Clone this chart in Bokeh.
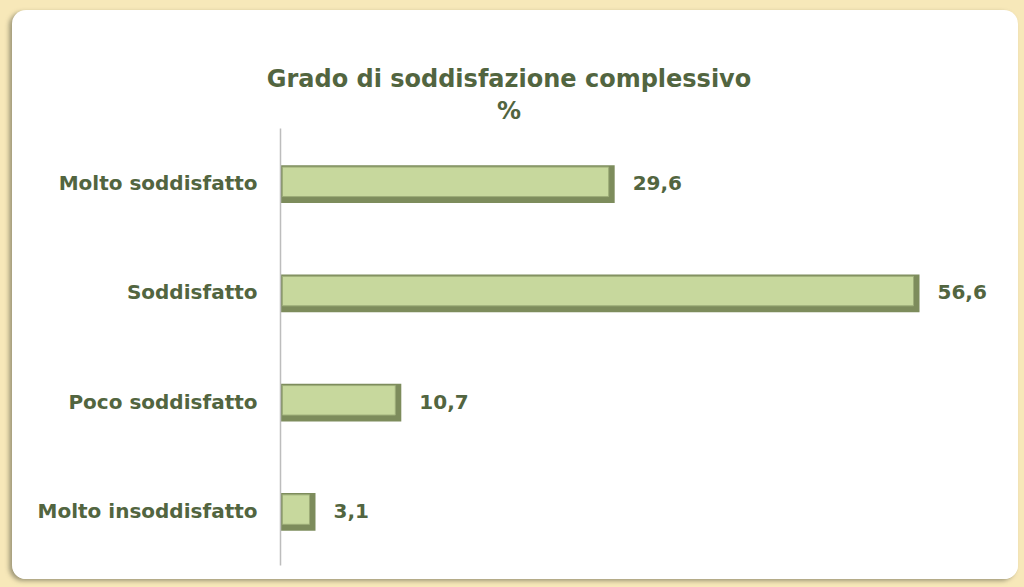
from bokeh.plotting import figure
from bokeh.models import ColumnDataSource, LabelSet, FactorRange, Range1d, Div
from bokeh.layouts import column
from bokeh.transform import dodge
from bokeh.core.properties import value
from bokeh.embed import file_html
from bokeh.resources import INLINE

# Data (bottom to top)
categories = ["Molto insoddisfatto", "Poco soddisfatto", "Soddisfatto", "Molto soddisfatto"]
values = [3.1, 10.7, 56.6, 29.6]
value_labels = ["3,1", "10,7", "56,6", "29,6"]
title_line1 = "Grado di soddisfazione complessivo"
title_line2 = "%"

TEXT = "#526540"
FONT = "DejaVu Sans"

px_per_unit = 11.29
inset_right = 6 / px_per_unit
inset_left = 2 / px_per_unit

src = ColumnDataSource(dict(
    cat=categories,
    val=values,
    inner_right=[v - inset_right for v in values],
    inner_left=[inset_left] * len(values),
    lab=value_labels,
))

p = figure(
    width=1006, height=451,
    y_range=FactorRange(factors=categories, range_padding=0),
    x_range=Range1d(0, 720 / px_per_unit),
    output_backend="svg", toolbar_location=None,
    x_axis_location=None, title=None,
    min_border_left=268, min_border_right=18,
    min_border_top=0, min_border_bottom=14,
)
p.margin = 0
p.background_fill_color = "white"
p.border_fill_color = "white"
p.outline_line_color = None
p.xgrid.visible = False
p.ygrid.visible = False

# shadow / dark base bar
p.hbar(y=dodge("cat", -0.01, range=p.y_range), left=0, right="val", height=0.345,
       source=src, fill_color="#7D8C5C", line_color=None)
# light face
p.hbar(y=dodge("cat", 0.012, range=p.y_range), left="inner_left", right="inner_right", height=0.27,
       source=src, fill_color="#C7D89D", line_color="#9DAD78", line_width=1)

labels = LabelSet(x="val", y="cat", text="lab", source=src, x_offset=18,
                  text_baseline="middle", text_align="left",
                  text_font=value(FONT), text_font_style="bold", text_font_size="20px",
                  text_color=TEXT)
p.add_layout(labels)

ax = p.yaxis[0]
ax.major_tick_line_color = None
ax.minor_tick_line_color = None
ax.axis_line_color = "#BDBDBD"
ax.axis_line_width = 1.5
ax.major_label_standoff = 17
ax.major_label_text_font = FONT
ax.major_label_text_font_style = "bold"
ax.major_label_text_font_size = "20px"
ax.major_label_text_color = TEXT

title_html = (
    '<div style="width:1006px;height:118px;box-sizing:border-box;padding-top:53px;'
    'padding-right:12px;text-align:center;font-family:\'DejaVu Sans\';font-weight:bold;'
    'font-size:24px;line-height:32px;color:%s;">%s<br>%s</div>'
    % (TEXT, title_line1, title_line2)
)
title_div = Div(text=title_html, width=1006, height=118)
title_div.margin = 0

panel = column(title_div, p, spacing=0,
               styles={"background-color": "white", "border-radius": "14px",
                       "box-shadow": "-3px 2px 4px rgba(90,90,70,0.55)", "overflow": "hidden"})
panel.margin = (10, 6, 8, 12)
layout = column(panel, styles={"background-color": "#F7E8B9"})
open("out.html", "w").write(file_html(layout, INLINE))
